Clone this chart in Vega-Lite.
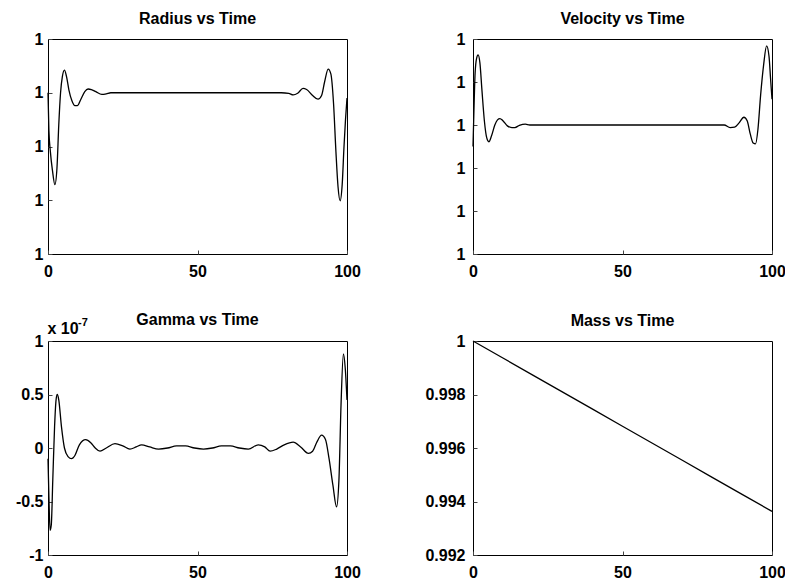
{
  "$schema": "https://vega.github.io/schema/vega-lite/v6.json",
  "background": "white",
  "padding": {"left": 14, "top": 10, "right": 5, "bottom": 5},
  "config": {
    "font": "Liberation Sans",
    "view": {"stroke": "black", "strokeWidth": 1},
    "axis": {
      "grid": false,
      "domain": false,
      "labelFont": "Liberation Sans",
      "labelFontSize": 16,
      "labelFontWeight": "bold",
      "labelColor": "black",
      "labelFlush": false,
      "labelOverlap": false,
      "ticks": true,
      "tickSize": -4,
      "tickColor": "#444",
      "tickWidth": 1
    },
    "axisX": {"labelPadding": 13},
    "title": {"font": "Liberation Sans", "fontSize": 16, "fontWeight": "bold", "color": "black", "anchor": "middle", "baseline": "alphabetic", "offset": 4},
    "line": {"color": "black", "strokeWidth": 1.3, "interpolate": "monotone"}
  },
  "datasets": {
    "radius": [
      {"t": 0, "r": 1},
      {"t": 0.3, "r": 0.9999986},
      {"t": 0.8, "r": 0.9999978},
      {"t": 1.5, "r": 0.9999971},
      {"t": 2.3, "r": 0.99999658},
      {"t": 3.0, "r": 0.9999972},
      {"t": 3.6, "r": 0.9999988},
      {"t": 4.2, "r": 1},
      {"t": 4.8, "r": 1.0000006},
      {"t": 5.5, "r": 1.00000084},
      {"t": 6.2, "r": 1.0000006},
      {"t": 7.0, "r": 1.0000001},
      {"t": 8.0, "r": 0.9999997},
      {"t": 9.0, "r": 0.99999952},
      {"t": 9.8, "r": 0.99999952},
      {"t": 11.0, "r": 0.99999976},
      {"t": 12.3, "r": 1.00000004},
      {"t": 13.4, "r": 1.00000014},
      {"t": 14.5, "r": 1.00000012},
      {"t": 16.0, "r": 1.00000004},
      {"t": 18.0, "r": 0.99999994},
      {"t": 19.5, "r": 0.99999996},
      {"t": 21, "r": 1},
      {"t": 30, "r": 1},
      {"t": 40, "r": 1},
      {"t": 50, "r": 1},
      {"t": 60, "r": 1},
      {"t": 70, "r": 1},
      {"t": 78, "r": 1},
      {"t": 80.5, "r": 0.99999998},
      {"t": 82, "r": 0.99999992},
      {"t": 83.5, "r": 0.99999998},
      {"t": 85.3, "r": 1.00000016},
      {"t": 86.5, "r": 1.00000012},
      {"t": 88.5, "r": 0.9999999},
      {"t": 90.3, "r": 0.99999976},
      {"t": 91.5, "r": 0.9999999},
      {"t": 92.5, "r": 1.0000004},
      {"t": 93.7, "r": 1.00000088},
      {"t": 94.6, "r": 1.0000007},
      {"t": 95.5, "r": 0.9999996},
      {"t": 96.3, "r": 0.9999978},
      {"t": 97.0, "r": 0.9999965},
      {"t": 97.7, "r": 0.99999598},
      {"t": 98.4, "r": 0.9999966},
      {"t": 99.0, "r": 0.999998},
      {"t": 99.5, "r": 0.999999},
      {"t": 100, "r": 0.9999998}
    ],
    "velocity": [
      {"t": 0, "v": 0.9999995},
      {"t": 0.3, "v": 1.0000003},
      {"t": 0.7, "v": 1.0000012},
      {"t": 1.2, "v": 1.00000155},
      {"t": 1.7, "v": 1.00000163},
      {"t": 2.3, "v": 1.00000145},
      {"t": 3.0, "v": 1.0000008},
      {"t": 3.8, "v": 1.0000001},
      {"t": 4.6, "v": 0.9999997},
      {"t": 5.3, "v": 0.99999961},
      {"t": 6.2, "v": 0.99999975},
      {"t": 7.3, "v": 1},
      {"t": 8.2, "v": 1.00000012},
      {"t": 9.0, "v": 1.00000015},
      {"t": 10.0, "v": 1.0000001},
      {"t": 11.5, "v": 0.99999998},
      {"t": 13.0, "v": 0.99999994},
      {"t": 14.0, "v": 0.99999994},
      {"t": 15.5, "v": 0.99999999},
      {"t": 17.5, "v": 1.00000002},
      {"t": 19, "v": 1},
      {"t": 30, "v": 1},
      {"t": 40, "v": 1},
      {"t": 50, "v": 1},
      {"t": 60, "v": 1},
      {"t": 70, "v": 1},
      {"t": 80, "v": 1},
      {"t": 84, "v": 1},
      {"t": 86, "v": 0.99999994},
      {"t": 87.5, "v": 0.99999995},
      {"t": 89, "v": 1.00000005},
      {"t": 90.6, "v": 1.00000018},
      {"t": 91.7, "v": 1.0000001},
      {"t": 92.7, "v": 0.9999998},
      {"t": 93.7, "v": 0.99999958},
      {"t": 94.5, "v": 0.99999956},
      {"t": 95.3, "v": 0.9999999},
      {"t": 96.2, "v": 1.0000007},
      {"t": 97.2, "v": 1.0000014},
      {"t": 98.2, "v": 1.00000184},
      {"t": 99.0, "v": 1.0000016},
      {"t": 99.5, "v": 1.0000011},
      {"t": 100, "v": 1.0000006}
    ],
    "gamma": [
      {"t": 0, "g": -1e-8},
      {"t": 0.3, "g": -4.5e-8},
      {"t": 0.7, "g": -7.7e-8},
      {"t": 1.1, "g": -7.2e-8},
      {"t": 1.6, "g": -3e-8},
      {"t": 2.2, "g": 2e-8},
      {"t": 2.7, "g": 4.5e-8},
      {"t": 3.1, "g": 5e-8},
      {"t": 3.6, "g": 4.5e-8},
      {"t": 4.5, "g": 2e-8},
      {"t": 5.5, "g": 0},
      {"t": 6.7, "g": -8e-9},
      {"t": 7.9, "g": -1e-8},
      {"t": 9.0, "g": -7e-9},
      {"t": 10.5, "g": 3e-9},
      {"t": 12.6, "g": 7.8e-9},
      {"t": 14.3, "g": 5e-9},
      {"t": 15.8, "g": 0},
      {"t": 17.4, "g": -3e-9},
      {"t": 19.5, "g": 0},
      {"t": 22.4, "g": 4e-9},
      {"t": 25, "g": 2e-9},
      {"t": 27.4, "g": -1e-9},
      {"t": 29.5, "g": 1e-9},
      {"t": 31.3, "g": 3e-9},
      {"t": 34, "g": 1e-9},
      {"t": 37, "g": -1e-9},
      {"t": 40, "g": 0},
      {"t": 43, "g": 2e-9},
      {"t": 46, "g": 2e-9},
      {"t": 49, "g": 0},
      {"t": 52, "g": -1e-9},
      {"t": 55, "g": 0},
      {"t": 58, "g": 2e-9},
      {"t": 61, "g": 2e-9},
      {"t": 64, "g": 0},
      {"t": 67, "g": -1e-9},
      {"t": 70.3, "g": 3e-9},
      {"t": 72.5, "g": 1e-9},
      {"t": 74.3, "g": -3e-9},
      {"t": 76.5, "g": -1e-9},
      {"t": 79, "g": 3e-9},
      {"t": 82, "g": 5.5e-9},
      {"t": 84.5, "g": 1e-9},
      {"t": 87.1, "g": -5e-9},
      {"t": 88.5, "g": -3e-9},
      {"t": 90, "g": 6e-9},
      {"t": 91.5, "g": 1.2e-8},
      {"t": 92.8, "g": 8e-9},
      {"t": 94.0, "g": -1e-8},
      {"t": 95.3, "g": -3.5e-8},
      {"t": 96.5, "g": -5.5e-8},
      {"t": 97.3, "g": -3e-8},
      {"t": 98.0, "g": 4e-8},
      {"t": 98.8, "g": 8.8e-8},
      {"t": 99.4, "g": 7.5e-8},
      {"t": 100, "g": 4.5e-8}
    ],
    "mass": [
      {"t": 0, "m": 1},
      {"t": 10, "m": 0.999363},
      {"t": 20, "m": 0.998726},
      {"t": 30, "m": 0.998089},
      {"t": 40, "m": 0.997452},
      {"t": 50, "m": 0.996815},
      {"t": 60, "m": 0.996178},
      {"t": 70, "m": 0.995541},
      {"t": 80, "m": 0.994904},
      {"t": 90, "m": 0.994267},
      {"t": 100, "m": 0.99363}
    ]
  },
  "columns": 2,
  "spacing": {"row": 87, "column": 126},
  "bounds": "flush",
  "concat": [
    {
      "title": {"text": "Radius vs Time", "offset": 4},
      "width": 299, "height": 215,
      "data": {"name": "radius"},
      "mark": {"type": "line"},
      "encoding": {
        "x": {"field": "t", "type": "quantitative", "scale": {"domain": [0, 100], "nice": false, "zero": false}, "axis": {"values": [0, 50, 100], "title": null}},
        "y": {"field": "r", "type": "quantitative", "scale": {"domain": [0.999994, 1.000002], "nice": false, "zero": false}, "axis": {"values": [0.999994, 0.999996, 0.999998, 1, 1.000002], "labelExpr": "'1'", "labelPadding": 9, "title": null}}
      }
    },
    {
      "title": {"text": "Velocity vs Time", "offset": 4},
      "width": 299, "height": 215,
      "data": {"name": "velocity"},
      "mark": {"type": "line"},
      "encoding": {
        "x": {"field": "t", "type": "quantitative", "scale": {"domain": [0, 100], "nice": false, "zero": false}, "axis": {"values": [0, 50, 100], "title": null}},
        "y": {"field": "v", "type": "quantitative", "scale": {"domain": [0.999997, 1.000002], "nice": false, "zero": false}, "axis": {"values": [0.999997, 0.999998, 0.999999, 1, 1.000001, 1.000002], "labelExpr": "'1'", "labelPadding": 12, "title": null}}
      }
    },
    {
      "title": {"text": "Gamma vs Time", "offset": -11},
      "width": 299, "height": 214,
      "layer": [
        {
          "data": {"name": "gamma"},
          "mark": {"type": "line"},
          "encoding": {
            "x": {"field": "t", "type": "quantitative", "scale": {"domain": [0, 100], "nice": false, "zero": false}, "axis": {"values": [0, 50, 100], "title": null}},
            "y": {"field": "g", "type": "quantitative", "scale": {"domain": [-1e-7, 1e-7], "nice": false, "zero": false}, "axis": {"values": [-1e-7, -5e-8, 0, 5e-8, 1e-7], "labelExpr": "'' + (round(datum.value * 1e8) / 10)", "labelPadding": 9, "title": "x 10", "titleAngle": 0, "titleAlign": "left", "titleBaseline": "alphabetic", "titleX": -1, "titleY": -8, "titleFont": "Liberation Sans", "titleFontSize": 16, "titleFontWeight": "bold", "titleColor": "black"}}
          }
        },
        {
          "data": {"values": [{"label": "-7"}]},
          "mark": {"type": "text", "align": "left", "baseline": "alphabetic", "dx": 30, "dy": -15, "fontSize": 11, "fontWeight": "bold", "font": "Liberation Sans", "color": "black"},
          "encoding": {
            "x": {"datum": 0},
            "y": {"datum": 1e-7},
            "text": {"field": "label"}
          }
        }
      ]
    },
    {
      "title": {"text": "Mass vs Time", "offset": 4},
      "width": 299, "height": 214,
      "data": {"name": "mass"},
      "mark": {"type": "line", "interpolate": "linear"},
      "encoding": {
        "x": {"field": "t", "type": "quantitative", "scale": {"domain": [0, 100], "nice": false, "zero": false}, "axis": {"values": [0, 50, 100], "title": null}},
        "y": {"field": "m", "type": "quantitative", "scale": {"domain": [0.992, 1], "nice": false, "zero": false}, "axis": {"values": [0.992, 0.994, 0.996, 0.998, 1], "labelExpr": "'' + (round(datum.value * 1000) / 1000)", "labelPadding": 12, "title": null}}
      }
    }
  ]
}
